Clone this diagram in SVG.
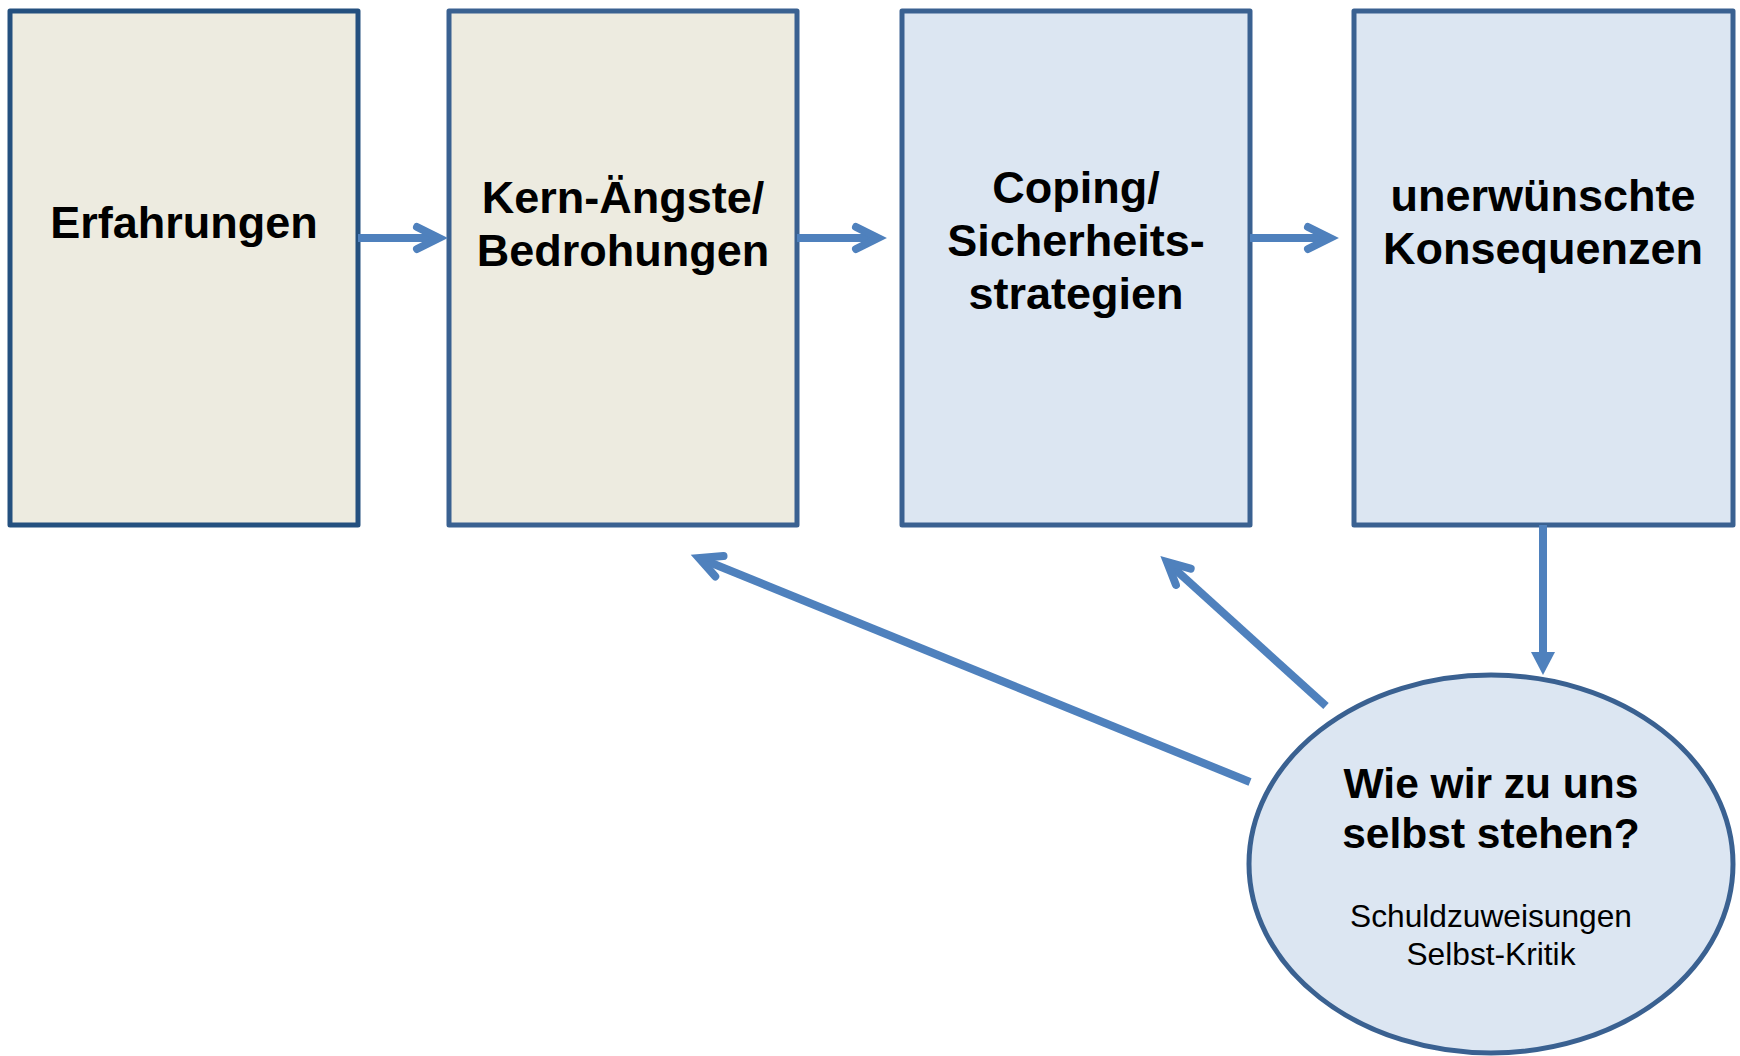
<svg xmlns="http://www.w3.org/2000/svg" width="1740" height="1056" viewBox="0 0 1740 1056">
  <style>
    .box { stroke-width: 5; stroke-linejoin: round; }
    .tan { fill: #EDEBE0; stroke: #3A6191; }
    .blue { fill: #DCE6F2; stroke: #3A6191; }
    .title { font-family: "Liberation Sans", Arial, sans-serif; font-weight: bold; font-size: 45px; fill: #000; text-anchor: middle; }
    .q { font-family: "Liberation Sans", Arial, sans-serif; font-weight: bold; font-size: 42.5px; fill: #000; text-anchor: middle; }
    .sub { font-family: "Liberation Sans", Arial, sans-serif; font-size: 31.7px; fill: #000; text-anchor: middle; }
    .conn { stroke: #4F81BD; stroke-width: 8; fill: none; }
  </style>
  <defs>
    <!-- open chevron head; the line ends at the chevron's vertex -->
    <marker id="chev" markerUnits="userSpaceOnUse" orient="auto" refX="0" refY="0" overflow="visible" markerWidth="1" markerHeight="1">
      <path d="M -22 -11 L 0 0 L -22 11" fill="none" stroke="#4F81BD" stroke-width="8" stroke-linecap="round" stroke-linejoin="miter"/>
    </marker>
  </defs>

  <g id="node-erfahrungen">
    <rect class="box tan" x="10" y="11" width="348" height="514" style="stroke:#24507F"/>
    <text class="title" x="184" y="238">Erfahrungen</text>
  </g>

  <g id="node-kern">
    <rect class="box tan" x="449" y="11" width="348" height="514"/>
    <text class="title" x="623" y="213">Kern-Ängste/</text>
    <text class="title" x="623" y="266">Bedrohungen</text>
  </g>

  <g id="node-coping">
    <rect class="box blue" x="902" y="11" width="348" height="514"/>
    <text class="title" x="1076" y="203">Coping/</text>
    <text class="title" x="1076" y="256">Sicherheits-</text>
    <text class="title" x="1076" y="309">strategien</text>
  </g>

  <g id="node-konsequenzen">
    <rect class="box blue" x="1354" y="11" width="379" height="514"/>
    <text class="title" x="1543" y="211">unerwünschte</text>
    <text class="title" x="1543" y="264">Konsequenzen</text>
  </g>

  <g id="node-selbst">
    <ellipse class="box blue" cx="1491" cy="864" rx="242" ry="189"/>
    <text class="q" x="1491" y="798">Wie wir zu uns</text>
    <text class="q" x="1491" y="848">selbst stehen?</text>
    <text class="sub" x="1491" y="927">Schuldzuweisungen</text>
    <text class="sub" x="1491" y="965">Selbst-Kritik</text>
  </g>

  <g id="connectors">
    <line class="conn" x1="358" y1="238" x2="439" y2="238" marker-end="url(#chev)"/>
    <line class="conn" x1="797" y1="238" x2="878" y2="238" marker-end="url(#chev)"/>
    <line class="conn" x1="1250" y1="238" x2="1330" y2="238" marker-end="url(#chev)"/>
    <!-- downward arrow with solid head -->
    <line class="conn" x1="1543" y1="525" x2="1543" y2="654"/>
    <polygon points="1531,652 1555,652 1543,675" fill="#4F81BD"/>
    <!-- feedback arrows from the ellipse -->
    <line class="conn" x1="1250" y1="782" x2="699" y2="558" marker-end="url(#chev)"/>
    <line class="conn" x1="1326" y1="706" x2="1167" y2="562" marker-end="url(#chev)"/>
  </g>
</svg>
